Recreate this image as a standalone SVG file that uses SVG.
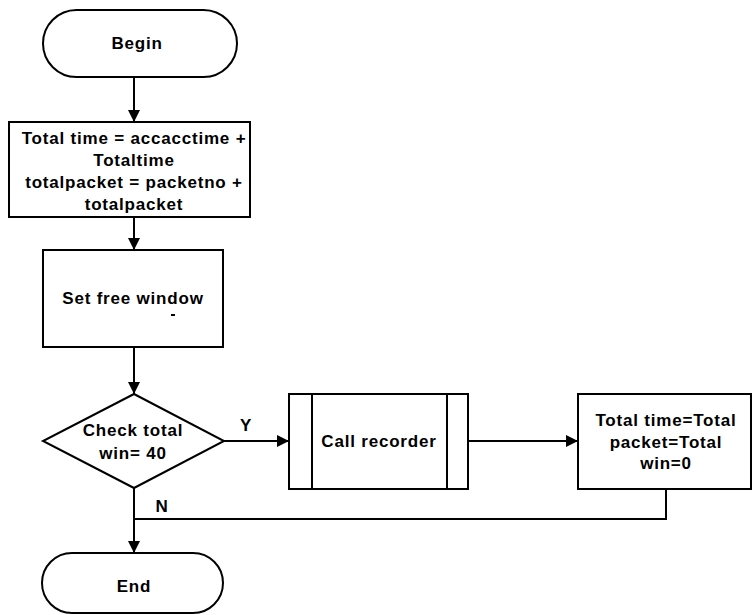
<svg xmlns="http://www.w3.org/2000/svg" width="752" height="615" viewBox="0 0 752 615">
  <defs>
    <marker id="arrow" markerUnits="userSpaceOnUse" markerWidth="14" markerHeight="14" viewBox="0 0 14 14" refX="13" refY="7" orient="auto">
      <path d="M1,1 L13,7 L1,13 Z" fill="#000"/>
    </marker>
    <style>
      .shape { fill: #fff; stroke: #000; stroke-width: 2; }
      .line { fill: none; stroke: #000; stroke-width: 2; }
      .txt { font-family: "Liberation Sans", Arial, sans-serif; font-size: 17px; font-weight: bold; letter-spacing: 0.8px; fill: #000; text-anchor: middle; }
    </style>
  </defs>
  <rect width="752" height="615" fill="#fff"/>

  <!-- connectors -->
  <g id="connectors">
    <line class="line" x1="134" y1="77" x2="134" y2="122" marker-end="url(#arrow)"/>
    <line class="line" x1="134" y1="217" x2="134" y2="250" marker-end="url(#arrow)"/>
    <line class="line" x1="134" y1="347" x2="134" y2="394" marker-end="url(#arrow)"/>
    <line class="line" x1="224" y1="441" x2="289" y2="441" marker-end="url(#arrow)"/>
    <line class="line" x1="468" y1="441" x2="578" y2="441" marker-end="url(#arrow)"/>
    <polyline class="line" points="666,489 666,519 134,519"/>
    <line class="line" x1="134" y1="488" x2="134" y2="553" marker-end="url(#arrow)"/>
    <text class="txt" x="246" y="431">Y</text>
    <text class="txt" x="162" y="512">N</text>
  </g>

  <!-- start terminal -->
  <g id="begin">
    <rect class="shape" x="43" y="10" width="194" height="67" rx="33.5" ry="33.5"/>
    <text class="txt" x="137" y="49">Begin</text>
  </g>

  <!-- accumulate totals -->
  <g id="accumulate">
    <rect class="shape" x="9" y="122" width="241" height="95"/>
    <text class="txt" x="134" y="144">Total time = accacctime +</text>
    <text class="txt" x="134" y="166">Totaltime</text>
    <text class="txt" x="134" y="188">totalpacket = packetno +</text>
    <text class="txt" x="134" y="210">totalpacket</text>
  </g>

  <!-- free window -->
  <g id="set-free-window">
    <rect class="shape" x="43" y="250" width="180" height="97"/>
    <text class="txt" x="133" y="304">Set free window</text>
    <rect x="171" y="314" width="4" height="2" fill="#000"/>
  </g>

  <!-- decision -->
  <g id="check-total">
    <polygon class="shape" points="134,394 224,441 134,488 43,441"/>
    <text class="txt" x="133" y="436">Check total</text>
    <text class="txt" x="133" y="459">win= 40</text>
  </g>

  <!-- predefined process -->
  <g id="call-recorder">
    <rect class="shape" x="289" y="394" width="179" height="95"/>
    <line class="line" x1="312" y1="394" x2="312" y2="489"/>
    <line class="line" x1="447" y1="394" x2="447" y2="489"/>
    <text class="txt" x="379" y="447">Call recorder</text>
  </g>

  <!-- reset totals -->
  <g id="reset">
    <rect class="shape" x="578" y="394" width="173" height="95"/>
    <text class="txt" x="666" y="426">Total time=Total</text>
    <text class="txt" x="666" y="448">packet=Total</text>
    <text class="txt" x="666" y="469">win=0</text>
  </g>

  <!-- end terminal -->
  <g id="end">
    <rect class="shape" x="42" y="553" width="181" height="60" rx="30" ry="30"/>
    <text class="txt" x="134" y="592">End</text>
  </g>
</svg>
